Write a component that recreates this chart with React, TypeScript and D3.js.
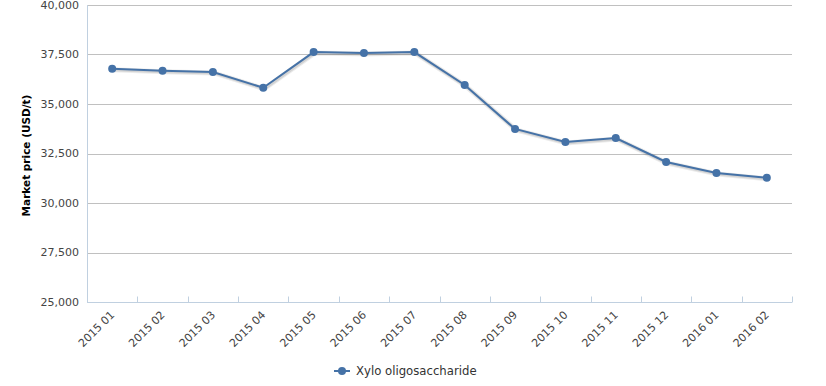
import React, { useEffect, useRef } from "react";
import * as d3 from "d3";

const months = [
  "2015 01", "2015 02", "2015 03", "2015 04", "2015 05", "2015 06", "2015 07",
  "2015 08", "2015 09", "2015 10", "2015 11", "2015 12", "2016 01", "2016 02",
];
const prices = [
  36780, 36680, 36620, 35820, 37620, 37580, 37620,
  35960, 33740, 33080, 33280, 32070, 31520, 31270,
];
const yTicks = [25000, 27500, 30000, 32500, 35000, 37500, 40000];
const seriesName = "Xylo oligosaccharide";
const yTitle = "Market price (USD/t)";

const FONT = "'DejaVu Sans', sans-serif";
const LINE = "#4572A7";

export default function App() {
  const ref = useRef<SVGSVGElement>(null);

  useEffect(() => {
    const width = 826, height = 386;
    const margin = { top: 5, right: 34, bottom: 84, left: 87 };

    const svg = d3.select(ref.current);
    svg.html("");

    const x = d3.scaleBand()
      .domain(months)
      .range([margin.left, width - margin.right]);

    const y = d3.scaleLinear()
      .domain([25000, 40000])
      .range([height - margin.bottom, margin.top]);

    const fmt = d3.format(",");

    // grid
    svg.append("g")
      .selectAll("line")
      .data(yTicks)
      .enter().append("line")
      .attr("x1", margin.left)
      .attr("x2", width - margin.right)
      .attr("y1", d => Math.round(y(d)) + 0.5)
      .attr("y2", d => Math.round(y(d)) + 0.5)
      .attr("stroke", "#C0C0C0")
      .attr("stroke-width", 1);

    // y axis line
    svg.append("line")
      .attr("x1", margin.left + 0.5)
      .attr("x2", margin.left + 0.5)
      .attr("y1", margin.top)
      .attr("y2", height - margin.bottom)
      .attr("stroke", "#C0D0E0");

    // y labels
    svg.append("g")
      .selectAll("text")
      .data(yTicks)
      .enter().append("text")
      .attr("x", margin.left - 8)
      .attr("y", d => y(d))
      .attr("dy", "0.35em")
      .attr("text-anchor", "end")
      .style("font-family", FONT)
      .style("font-size", "11px")
      .attr("fill", "#444")
      .text(d => fmt(d));

    // y title
    svg.append("text")
      .attr("transform", `translate(30,${(margin.top + height - margin.bottom) / 2 + 2}) rotate(-90)`)
      .attr("text-anchor", "middle")
      .style("font-family", FONT)
      .style("font-size", "10.5px")
      .style("font-weight", "bold")
      .attr("fill", "#000")
      .text(yTitle);

    // x axis line and ticks
    const axisY = Math.round(y(25000)) + 0.5;
    svg.append("line")
      .attr("x1", margin.left)
      .attr("x2", width - margin.right)
      .attr("y1", axisY)
      .attr("y2", axisY)
      .attr("stroke", "#C0D0E0");

    const tickXs = months.map(m => x(m) as number).concat([width - margin.right]);
    svg.append("g")
      .selectAll("line")
      .data(tickXs)
      .enter().append("line")
      .attr("x1", d => Math.round(d) + 0.5)
      .attr("x2", d => Math.round(d) + 0.5)
      .attr("y1", axisY - 6)
      .attr("y2", axisY)
      .attr("stroke", "#C0D0E0");

    svg.append("g")
      .selectAll("text")
      .data(months)
      .enter().append("text")
      .attr("transform", d => `translate(${(x(d) as number) + x.bandwidth() / 2 + 3},${axisY + 13}) rotate(-45)`)
      .attr("text-anchor", "end")
      .style("font-family", FONT)
      .style("font-size", "11px")
      .attr("fill", "#444")
      .text(d => d);

    const cx = (d: string) => (x(d) as number) + x.bandwidth() / 2;
    const line = d3.line<number>()
      .x((_, i) => cx(months[i]))
      .y(d => y(d));

    // shadow
    svg.append("path")
      .datum(prices)
      .attr("d", line)
      .attr("fill", "none")
      .attr("stroke", "#000")
      .attr("stroke-opacity", 0.08)
      .attr("stroke-width", 5)
      .attr("transform", "translate(1,1)");
    svg.append("path")
      .datum(prices)
      .attr("d", line)
      .attr("fill", "none")
      .attr("stroke", "#000")
      .attr("stroke-opacity", 0.1)
      .attr("stroke-width", 3)
      .attr("transform", "translate(1,1)");

    svg.append("path")
      .datum(prices)
      .attr("d", line)
      .attr("fill", "none")
      .attr("stroke", LINE)
      .attr("stroke-width", 2);

    svg.append("g")
      .selectAll("circle")
      .data(prices)
      .enter().append("circle")
      .attr("cx", (_, i) => cx(months[i]))
      .attr("cy", d => y(d))
      .attr("r", 4)
      .attr("fill", LINE);

    // legend
    const lg = svg.append("g").attr("transform", "translate(334,371)");
    lg.append("line")
      .attr("x1", 0).attr("x2", 16)
      .attr("stroke", LINE).attr("stroke-width", 2);
    lg.append("circle").attr("cx", 8).attr("r", 4).attr("fill", LINE);
    lg.append("text")
      .attr("x", 22)
      .attr("dy", "0.35em")
      .style("font-family", FONT)
      .style("font-size", "11.7px")
      .attr("fill", "#333")
      .text(seriesName);
  }, []);

  return (
    <svg ref={ref} width={826} height={386}
      style={{ position: "absolute", left: 0, top: 0 }} />
  );
}
